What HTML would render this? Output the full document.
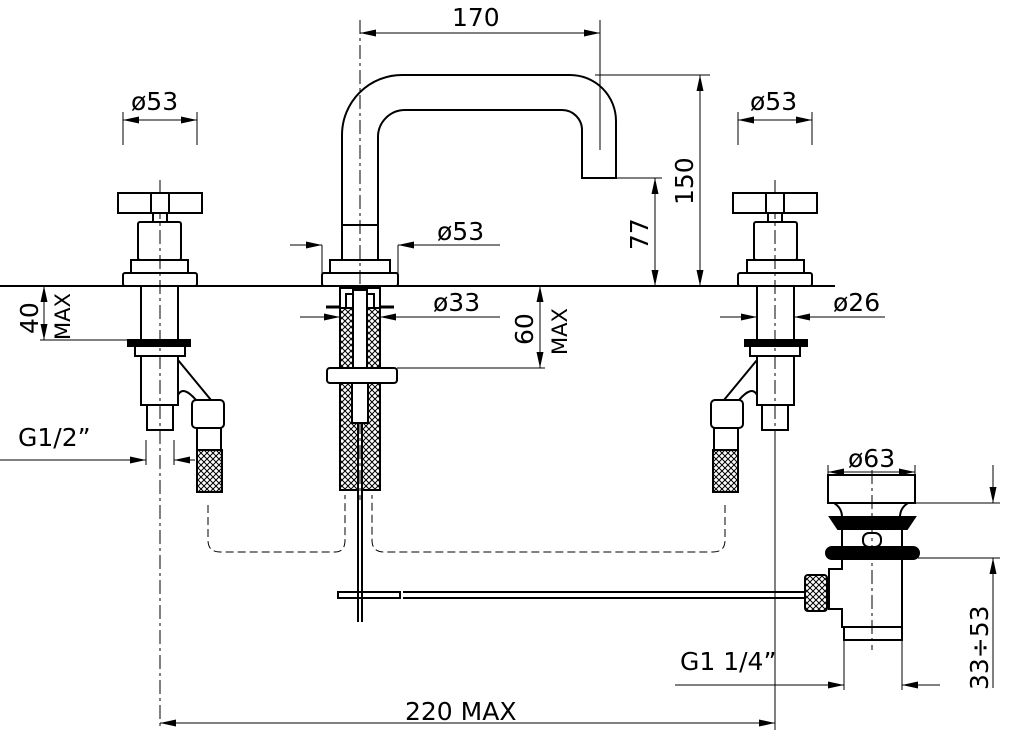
<!DOCTYPE html>
<html><head><meta charset="utf-8"><style>html,body{margin:0;padding:0;background:#fff}svg{display:block}text{font-family:"DejaVu Sans","Liberation Sans",sans-serif;font-size:25px;fill:#000}</style></head>
<body>
<svg width="1024" height="756" viewBox="0 0 1024 756" xmlns="http://www.w3.org/2000/svg">
<defs>
<pattern id="h" width="6" height="6" patternUnits="userSpaceOnUse"><path d="M0 0L6 6M6 0L0 6" stroke="#000" stroke-width="1"/></pattern>
<marker id="a" viewBox="0 0 16 7" refX="16" refY="3.5" markerWidth="16" markerHeight="7" orient="auto-start-reverse" markerUnits="userSpaceOnUse"><path d="M0 0L16 3.5L0 7z" fill="#000"/></marker>
</defs>
<g fill="none" stroke="#000" stroke-width="2">
<line x1="0" y1="286" x2="835" y2="286" stroke-width="2"/>
<g stroke-dasharray="14 4 3 4" stroke-width="1">
<line x1="160" y1="180" x2="160" y2="730"/>
<line x1="360" y1="20" x2="360" y2="500"/>
<line x1="775" y1="180" x2="775" y2="430"/>
<line x1="872" y1="470" x2="872" y2="650"/>
</g>
<g id="fl">
<rect x="118" y="193" width="84" height="20" fill="#fff"/>
<line x1="151" y1="193" x2="151" y2="213"/><line x1="169" y1="193" x2="169" y2="213"/>
<rect x="153" y="213" width="14" height="9"/>
<rect x="138" y="222" width="43" height="38" rx="2"/>
<rect x="131" y="260" width="57" height="13"/>
<rect x="123" y="273" width="74" height="13" rx="2"/>
<rect x="141" y="286" width="37" height="54"/>
<rect x="128" y="340" width="62" height="6" fill="#000"/>
<path d="M135 346h50v10h-50z"/>
<path d="M141 356v49h37v-49"/>
<rect x="147" y="405" width="26" height="25"/>
<path d="M178 360l33 40M178 395q5-10 18 5"/>
<rect x="192" y="400" width="32" height="28" rx="4"/>
<rect x="197" y="428" width="24" height="22"/>
<rect x="197" y="450" width="25" height="42" fill="url(#h)"/>
</g>
<use href="#fl" transform="translate(935 0) scale(-1 1)"/>
<path d="M342 225V135A60 60 0 0 1 402 75H570A46 46 0 0 1 616 121V178H582V130A20 20 0 0 0 562 110H405A27 27 0 0 0 378 137V225" stroke-width="2"/>
<rect x="342" y="225" width="36" height="35"/>
<rect x="330" y="260" width="60" height="13"/>
<rect x="322" y="273" width="76" height="13" rx="2"/>
<rect x="340" y="300" width="18" height="190" fill="url(#h)"/>
<rect x="362" y="300" width="18" height="190" fill="url(#h)"/>
<rect x="340" y="288" width="40" height="20" fill="#fff"/>
<rect x="346" y="294" width="8" height="14"/><rect x="366" y="294" width="8" height="14"/>
<line x1="326" y1="307" x2="340" y2="307" stroke-width="3"/><line x1="380" y1="307" x2="394" y2="307" stroke-width="3"/>
<rect x="353" y="290" width="14" height="80" fill="#fff"/>
<rect x="327" y="368" width="70" height="15" rx="3" fill="#fff"/>
<rect x="352" y="383" width="16" height="40" fill="#fff"/>
<line x1="358" y1="490" x2="358" y2="622"/><line x1="362" y1="490" x2="362" y2="622"/>
<rect x="338" y="592" width="62" height="6"/>
<line x1="403" y1="592" x2="805" y2="592"/><line x1="403" y1="598" x2="805" y2="598"/>
<rect x="828" y="475" width="87" height="28"/>
<path d="M834 503q8 5 8 14h58q0-9 8-14" />
<path d="M830 517h85l-8 12h-69z" fill="#000"/>
<path d="M842 529v18h60v-18"/>
<rect x="863" y="533" width="18" height="14" rx="6"/>
<path d="M832 547h81a5 5 0 0 1 0 12h-81a5 5 0 0 1 0-12z" fill="#000"/>
<path d="M842 559v10h-13v40h13v18h60v-68"/>
<rect x="805" y="575" width="22" height="36" rx="3" fill="url(#h)"/>
<rect x="844" y="627" width="58" height="13"/>
<path d="M208 505V540q0 12 12 12H335q10 0 10-12V495" stroke-dasharray="8 4" stroke-width="1"/>
<path d="M725 505V540q0 12-12 12H384q-12 0-12-12V495" stroke-dasharray="8 4" stroke-width="1"/>
<g stroke-width="1">
<line x1="600" y1="20" x2="600" y2="150"/>
<line x1="360" y1="33" x2="600" y2="33" marker-start="url(#a)" marker-end="url(#a)"/>
<line x1="595" y1="75" x2="710" y2="75"/>
<line x1="700" y1="75" x2="700" y2="286" marker-start="url(#a)" marker-end="url(#a)"/>
<line x1="616" y1="178" x2="662" y2="178"/>
<line x1="655" y1="178" x2="655" y2="286" marker-start="url(#a)" marker-end="url(#a)"/>
<line x1="123" y1="112" x2="123" y2="145"/><line x1="197" y1="112" x2="197" y2="145"/>
<line x1="123" y1="120" x2="197" y2="120" marker-start="url(#a)" marker-end="url(#a)"/>
<line x1="738" y1="112" x2="738" y2="145"/><line x1="812" y1="112" x2="812" y2="145"/>
<line x1="738" y1="120" x2="812" y2="120" marker-start="url(#a)" marker-end="url(#a)"/>
<line x1="322" y1="245" x2="322" y2="273"/><line x1="398" y1="245" x2="398" y2="273"/>
<line x1="290" y1="245" x2="322" y2="245" marker-end="url(#a)"/>
<line x1="500" y1="245" x2="398" y2="245" marker-end="url(#a)"/>
<line x1="300" y1="317" x2="340" y2="317" marker-end="url(#a)"/>
<line x1="500" y1="317" x2="380" y2="317" marker-end="url(#a)"/>
<line x1="720" y1="317" x2="757" y2="317" marker-end="url(#a)"/>
<line x1="885" y1="317" x2="794" y2="317" marker-end="url(#a)"/>
<line x1="397" y1="368" x2="545" y2="368"/>
<line x1="540" y1="286" x2="540" y2="368" marker-start="url(#a)" marker-end="url(#a)"/>
<line x1="40" y1="340" x2="135" y2="340"/>
<line x1="44" y1="286" x2="44" y2="340" marker-start="url(#a)" marker-end="url(#a)"/>
<line x1="0" y1="460" x2="146" y2="460" marker-end="url(#a)"/>
<line x1="146" y1="440" x2="146" y2="465"/><line x1="174" y1="440" x2="174" y2="465"/>
<line x1="195" y1="460" x2="174" y2="460" marker-end="url(#a)"/>
<line x1="828" y1="465" x2="828" y2="475"/><line x1="915" y1="465" x2="915" y2="475"/>
<line x1="828" y1="472" x2="915" y2="472" marker-start="url(#a)" marker-end="url(#a)"/>
<line x1="915" y1="503" x2="1000" y2="503"/><line x1="918" y1="558" x2="1000" y2="558"/>
<line x1="993" y1="465" x2="993" y2="503" marker-end="url(#a)"/>
<line x1="993" y1="688" x2="993" y2="558" marker-end="url(#a)"/>
<line x1="844" y1="640" x2="844" y2="690"/><line x1="902" y1="640" x2="902" y2="690"/>
<line x1="675" y1="685" x2="844" y2="685" marker-end="url(#a)"/>
<line x1="940" y1="685" x2="902" y2="685" marker-end="url(#a)"/>
<line x1="775" y1="430" x2="775" y2="730"/>
<line x1="160" y1="723" x2="775" y2="723" marker-start="url(#a)" marker-end="url(#a)"/>
</g>
</g>
<text x="452" y="26">170</text>
<text x="131" y="110">ø53</text>
<text x="750" y="110">ø53</text>
<text x="437" y="240">ø53</text>
<text x="433" y="311">ø33</text>
<text x="833" y="311">ø26</text>
<text x="848" y="467">ø63</text>
<text x="18" y="446">G1/2”</text>
<text x="680" y="670">G1  1/4”</text>
<text x="405" y="720">220  MAX</text>
<text transform="translate(693 205) rotate(-90)">150</text>
<text transform="translate(648 250) rotate(-90)">77</text>
<text transform="translate(533 345) rotate(-90)">60</text>
<text transform="translate(567 355) rotate(-90)" style="font-size:21px">MAX</text>
<text transform="translate(38 334) rotate(-90)">40</text>
<text transform="translate(70 340) rotate(-90)" style="font-size:21px">MAX</text>
<text transform="translate(988 690) rotate(-90)">33÷53</text>
</svg>
</body></html>
